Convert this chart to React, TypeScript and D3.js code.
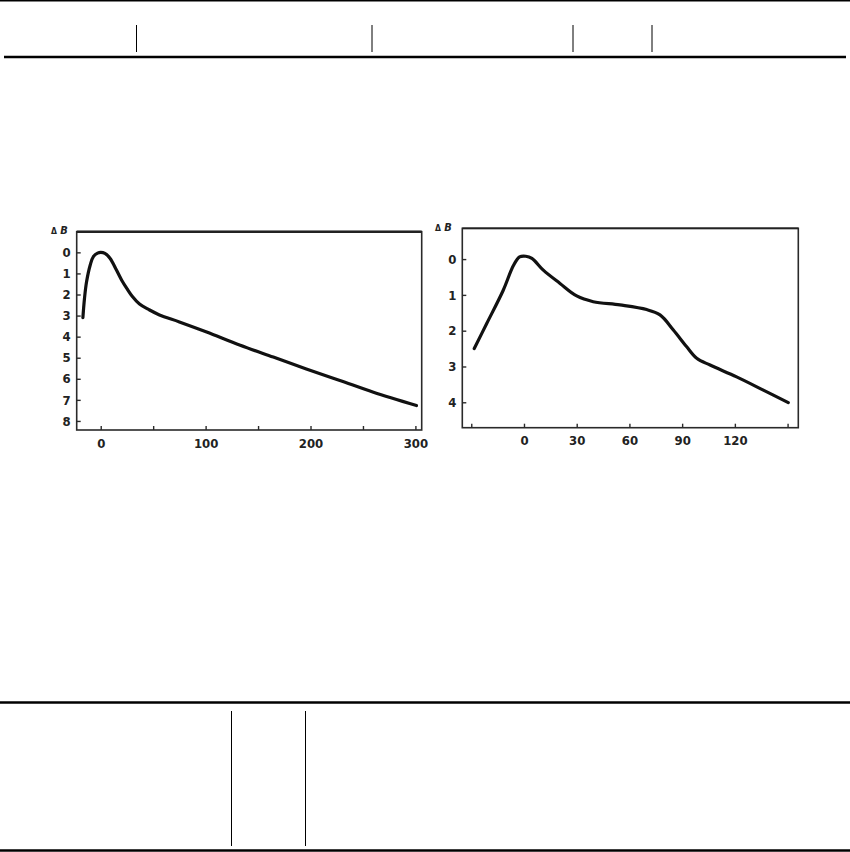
import { useEffect, useRef } from 'react';
import * as d3 from 'd3';

// left panel: ΔB vs time (long range)
const leftTime = [-17, -15.5, -13.5, -10, -7, -3, 0, 4, 9, 15, 20, 25, 30, 37, 46, 56, 75, 101, 133, 164.5, 196, 228, 260, 301];
const leftDeltaB = [3.1, 2.2, 1.4, 0.6, 0.2, 0.04, 0, 0.05, 0.29, 0.84, 1.32, 1.72, 2.08, 2.45, 2.72, 2.97, 3.3, 3.78, 4.41, 4.97, 5.53, 6.08, 6.64, 7.27];
const leftYTicks = [0, 1, 2, 3, 4, 5, 6, 7, 8];
const leftXTicks = [0, 50, 100, 150, 200, 250, 300];
const leftXLabels = [0, 100, 200, 300];

// right panel: ΔB vs time (short range)
const rightTime = [-28.3, -21.2, -11.8, -6, -2.5, 1, 4.5, 11, 20.5, 30, 39.4, 54.6, 69.8, 77.4, 85, 92.6, 98.3, 105.9, 121, 136.2, 150.4];
const rightDeltaB = [2.5, 1.8, 0.87, 0.18, -0.06, -0.08, -0.02, 0.31, 0.68, 1.03, 1.19, 1.28, 1.41, 1.56, 1.98, 2.45, 2.77, 2.96, 3.29, 3.66, 4.01];
const rightYTicks = [0, 1, 2, 3, 4];
const rightXTicks = [-30, 0, 30, 60, 90, 120, 150];
const rightXLabels = [0, 30, 60, 90, 120];

const FONT = '"DejaVu Sans Condensed", "DejaVu Sans", sans-serif';

function drawPanel(svg, opts) {
  const { xDomain, yDomain, left, right, top, bottom, xs, ys, yTicks, xTicks, xLabels, xPad, labelX, topWidth } = opts;
  const x = d3.scaleLinear().domain(xDomain).range([left, right]);
  const y = d3.scaleLinear().domain(yDomain).range([top, bottom]);

  const g = svg.append('g');

  // frame
  g.append('rect')
    .attr('x', left)
    .attr('y', top)
    .attr('width', right - left)
    .attr('height', bottom - top)
    .attr('fill', 'none')
    .attr('stroke', '#2a2a2a')
    .attr('stroke-width', 1.6);
  g.append('line')
    .attr('x1', left)
    .attr('x2', right)
    .attr('y1', top)
    .attr('y2', top)
    .attr('stroke', '#222')
    .attr('stroke-width', topWidth);

  const yAxis = g
    .append('g')
    .attr('transform', `translate(${left},0)`)
    .call(d3.axisLeft(y).tickValues(yTicks).tickSize(-4).tickPadding(6).tickFormat(d3.format('d')));

  const xAxis = g
    .append('g')
    .attr('transform', `translate(0,${bottom})`)
    .call(
      d3
        .axisBottom(x)
        .tickValues(xTicks)
        .tickSize(-4)
        .tickPadding(xPad)
        .tickFormat((d) => (xLabels.includes(d) ? String(d) : ''))
    );

  [yAxis, xAxis].forEach((a) => {
    a.select('.domain').remove();
    a.selectAll('line').attr('stroke', '#2a2a2a').attr('stroke-width', 1.4);
    a.selectAll('text')
      .style('font-family', FONT)
      .style('font-size', '13px')
      .style('font-weight', 'bold')
      .attr('fill', '#222');
  });

  // ΔB label
  const lab = g
    .append('text')
    .attr('x', labelX)
    .attr('y', top + 2.5)
    .style('font-family', FONT)
    .style('font-size', '11px')
    .style('font-weight', 'bold')
    .attr('fill', '#222');
  lab.append('tspan').text('Δ').style('font-size', '8.5px');
  lab.append('tspan').text(' B').style('font-style', 'italic');

  const line = d3
    .line()
    .x((d) => x(d[0]))
    .y((d) => y(d[1]))
    .curve(d3.curveCatmullRom.alpha(0.5));

  g.append('path')
    .attr('d', line(d3.zip(xs, ys)))
    .attr('fill', 'none')
    .attr('stroke', '#111')
    .attr('stroke-width', 3.2)
    .attr('stroke-linecap', 'round')
    .attr('stroke-linejoin', 'round');
}

export default function App() {
  const svgRef = useRef(null);

  useEffect(() => {
    if (!svgRef.current) return;
    const svg = d3.select(svgRef.current);
    svg.selectAll('*').remove();

    svg.append('rect').attr('width', 850).attr('height', 852).attr('fill', '#fff');

    // table rules, top
    svg.append('line').attr('x1', 0).attr('x2', 850).attr('y1', 0.75).attr('y2', 0.75).attr('stroke', '#000').attr('stroke-width', 1.5);
    [136.5, 372, 573, 652].forEach((vx) => {
      svg.append('line').attr('x1', vx).attr('x2', vx).attr('y1', 25).attr('y2', 52).attr('stroke', '#000').attr('stroke-width', 1);
    });
    svg.append('line').attr('x1', 4).attr('x2', 846).attr('y1', 57).attr('y2', 57).attr('stroke', '#000').attr('stroke-width', 2.6);

    // table rules, bottom
    svg.append('line').attr('x1', 0).attr('x2', 850).attr('y1', 702.5).attr('y2', 702.5).attr('stroke', '#000').attr('stroke-width', 2.6);
    [231.5, 305.5].forEach((vx) => {
      svg.append('line').attr('x1', vx).attr('x2', vx).attr('y1', 711).attr('y2', 846).attr('stroke', '#000').attr('stroke-width', 1);
    });
    svg.append('line').attr('x1', 0).attr('x2', 850).attr('y1', 850.5).attr('y2', 850.5).attr('stroke', '#000').attr('stroke-width', 2.6);

    drawPanel(svg, {
      xDomain: [-22.9, 306],
      yDomain: [-0.98, 8.43],
      left: 76.7,
      right: 421.7,
      top: 231.7,
      bottom: 430,
      xs: leftTime,
      ys: leftDeltaB,
      yTicks: leftYTicks,
      xTicks: leftXTicks,
      xLabels: leftXLabels,
      xPad: 9,
      labelX: 51,
      topWidth: 2.4,
    });

    drawPanel(svg, {
      xDomain: [-35.1, 156.1],
      yDomain: [-0.86, 4.71],
      left: 462.3,
      right: 798.3,
      top: 228.3,
      bottom: 427.7,
      xs: rightTime,
      ys: rightDeltaB,
      yTicks: rightYTicks,
      xTicks: rightXTicks,
      xLabels: rightXLabels,
      xPad: 8,
      labelX: 435,
      topWidth: 1.8,
    });
  }, []);

  return <svg ref={svgRef} width={850} height={852} style={{ position: 'absolute', left: 0, top: 0 }} />;
}
